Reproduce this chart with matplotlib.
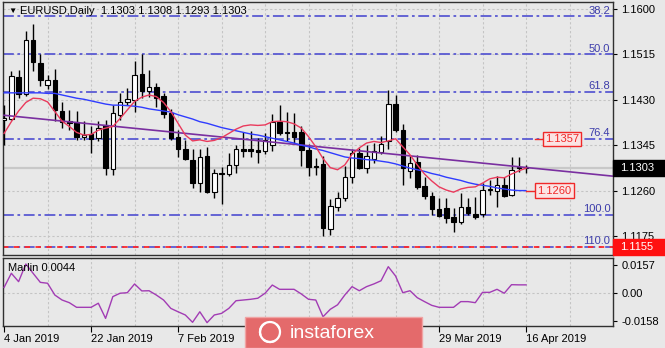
import numpy as np
import pandas as pd
import matplotlib
matplotlib.use('Agg')
import matplotlib.pyplot as plt
import matplotlib.transforms as mtransforms
from matplotlib.patches import Rectangle, Arc

plt.rcParams['font.family'] = ['Liberation Sans', 'DejaVu Sans']
plt.rcParams['font.size'] = 8
plt.rcParams['axes.unicode_minus'] = False

# daily EURUSD bars
dates = pd.bdate_range('2019-01-04', '2019-04-16')

opens = [1.1392, 1.1394, 1.1472, 1.1440, 1.1542, 1.1498, 1.1458, 1.1467, 1.1409, 1.1390,
         1.1388, 1.1360, 1.1366, 1.1358, 1.1383, 1.1301, 1.1401, 1.1425, 1.1430, 1.1478,
         1.1446, 1.1454, 1.1438, 1.1405, 1.1361, 1.1337, 1.1318, 1.1274, 1.1325, 1.1258,
         1.1293, 1.1291, 1.1308, 1.1338, 1.1337, 1.1336, 1.1334, 1.1345, 1.1389, 1.1369,
         1.1369, 1.1369, 1.1336, 1.1306, 1.1310, 1.1189, 1.1230, 1.1246, 1.1286, 1.1330,
         1.1302, 1.1320, 1.1333, 1.1352, 1.1423, 1.1373, 1.1297, 1.1314, 1.1269, 1.1249,
         1.1225, 1.1227, 1.1210, 1.1201, 1.1230, 1.1216, 1.1216, 1.1262, 1.1260, 1.1270,
         1.1252, 1.1302, 1.1303]
highs = [1.1420, 1.1484, 1.1486, 1.1559, 1.1571, 1.1515, 1.1476, 1.1488, 1.1425, 1.1410,
         1.1409, 1.1390, 1.1380, 1.1390, 1.1392, 1.1420, 1.1442, 1.1452, 1.1502, 1.1515,
         1.1486, 1.1461, 1.1442, 1.1412, 1.1374, 1.1354, 1.1337, 1.1337, 1.1341, 1.1300,
         1.1305, 1.1330, 1.1345, 1.1370, 1.1372, 1.1359, 1.1368, 1.1403, 1.1420, 1.1408,
         1.1406, 1.1381, 1.1348, 1.1321, 1.1324, 1.1245, 1.1257, 1.1306, 1.1338, 1.1340,
         1.1345, 1.1350, 1.1362, 1.1448, 1.1439, 1.1384, 1.1325, 1.1327, 1.1286, 1.1257,
         1.1247, 1.1247, 1.1227, 1.1255, 1.1247, 1.1248, 1.1275, 1.1279, 1.1287, 1.1285,
         1.1323, 1.1322, 1.1308]
lows = [1.1345, 1.1392, 1.1433, 1.1437, 1.1484, 1.1456, 1.1450, 1.1390, 1.1378, 1.1373,
        1.1355, 1.1355, 1.1331, 1.1352, 1.1289, 1.1289, 1.1392, 1.1420, 1.1408, 1.1433,
        1.1436, 1.1417, 1.1395, 1.1354, 1.1323, 1.1317, 1.1264, 1.1258, 1.1255, 1.1247,
        1.1234, 1.1288, 1.1293, 1.1323, 1.1323, 1.1311, 1.1328, 1.1335, 1.1364, 1.1353,
        1.1348, 1.1306, 1.1288, 1.1289, 1.1175, 1.1177, 1.1222, 1.1240, 1.1275, 1.1301,
        1.1292, 1.1312, 1.1328, 1.1337, 1.1370, 1.1270, 1.1284, 1.1263, 1.1245, 1.1214,
        1.1211, 1.1200, 1.1183, 1.1197, 1.1215, 1.1207, 1.1211, 1.1251, 1.1230, 1.1248,
        1.1250, 1.1295, 1.1293]
closes = [1.1395, 1.1475, 1.1440, 1.1542, 1.1500, 1.1467, 1.1467, 1.1411, 1.1389, 1.1386,
          1.1361, 1.1364, 1.1357, 1.1377, 1.1302, 1.1405, 1.1425, 1.1431, 1.1476, 1.1446,
          1.1454, 1.1434, 1.1403, 1.1359, 1.1337, 1.1320, 1.1274, 1.1323, 1.1258, 1.1292,
          1.1291, 1.1308, 1.1338, 1.1335, 1.1334, 1.1332, 1.1355, 1.1389, 1.1367, 1.1368,
          1.1360, 1.1336, 1.1305, 1.1304, 1.1190, 1.1232, 1.1247, 1.1286, 1.1330, 1.1302,
          1.1324, 1.1334, 1.1348, 1.1423, 1.1373, 1.1302, 1.1311, 1.1267, 1.1249, 1.1225,
          1.1213, 1.1209, 1.1202, 1.1230, 1.1218, 1.1210, 1.1261, 1.1263, 1.1270, 1.1249,
          1.1299, 1.1304, 1.1303]

# moving averages as plotted on the chart
fast_ma = [1.1367, 1.1389, 1.1409, 1.1425, 1.1433, 1.1432, 1.1426, 1.1408, 1.1390, 1.1380,
           1.1369, 1.1364, 1.1365, 1.1373, 1.1377, 1.1380, 1.1395, 1.1411, 1.1427, 1.1435,
           1.1439, 1.1436, 1.1425, 1.1408, 1.1386, 1.1364, 1.1353, 1.1355, 1.1352, 1.1354,
           1.1359, 1.1367, 1.1375, 1.1381, 1.1383, 1.1382, 1.1383, 1.1389, 1.1390, 1.1389,
           1.1385, 1.1377, 1.1361, 1.1342, 1.1320, 1.1303, 1.1299, 1.1308, 1.1328, 1.1340,
           1.1349, 1.1352, 1.1350, 1.1353, 1.1357, 1.1342, 1.1327, 1.1308, 1.1291, 1.1278,
           1.1267, 1.1261, 1.1257, 1.1263, 1.1266, 1.1267, 1.1274, 1.1282, 1.1285, 1.1284,
           1.1291, 1.1297, 1.1302]
slow_ma = [1.1443, 1.1443, 1.1443, 1.1443, 1.1443, 1.1443, 1.1442, 1.1442, 1.1439, 1.1436,
           1.1433, 1.1431, 1.1428, 1.1425, 1.1422, 1.1420, 1.1420, 1.1419, 1.1418, 1.1416,
           1.1413, 1.1411, 1.1409, 1.1407, 1.1402, 1.1398, 1.1394, 1.1389, 1.1386, 1.1382,
           1.1378, 1.1375, 1.1372, 1.1369, 1.1366, 1.1364, 1.1361, 1.1358, 1.1355, 1.1352,
           1.1349, 1.1345, 1.1342, 1.1338, 1.1335, 1.1331, 1.1327, 1.1323, 1.1321, 1.1320,
           1.1318, 1.1317, 1.1315, 1.1313, 1.1310, 1.1306, 1.1302, 1.1299, 1.1296, 1.1292,
           1.1289, 1.1285, 1.1282, 1.1279, 1.1275, 1.1272, 1.1270, 1.1268, 1.1265, 1.1263,
           1.1261, 1.1260, 1.1260]

marlin = [0.0030, 0.0109, 0.0062, 0.0161, 0.0109, 0.0058, 0.0053, -0.0013, -0.0041, -0.0056,
          -0.0082, -0.0082, -0.0082, -0.0059, -0.0144, -0.0022, -0.0003, 0.0000, 0.0049, 0.0010,
          0.0011, -0.0013, -0.0041, -0.0088, -0.0107, -0.0125, -0.0166, -0.0107, -0.0168, -0.0125,
          -0.0116, -0.0088, -0.0045, -0.0041, -0.0037, -0.0031, -0.0003, 0.0043, 0.0019, 0.0019,
          0.0019, -0.0007, -0.0037, -0.0041, -0.0135, -0.0093, -0.0068, -0.0013, 0.0034, 0.0011,
          0.0034, 0.0049, 0.0067, 0.0146, 0.0094, 0.0000, 0.0011, -0.0028, -0.0050, -0.0071,
          -0.0082, -0.0082, -0.0082, -0.0050, -0.0050, -0.0056, 0.0002, 0.0002, 0.0019, -0.0003,
          0.0045, 0.0044, 0.0044]

# trend line anchors (bar index, price)
trend_bars = [0, 84]
trend_prices = [1.1401, 1.1287]

fib_levels = [38.2, 50.0, 61.8, 76.4, 100.0, 110.0]
fib_prices = [1.1586, 1.1515, 1.1445, 1.1357, 1.1215, 1.1155]
support_price = 1.1155

price_ticks = [1.1175, 1.1260, 1.1345, 1.1430, 1.1515, 1.1600]
marlin_ticks = [-0.0158, 0.0, 0.0157]
marlin_tick_labels = ['-0.0158', '0.00', '0.0157']
# 25 Feb and 13 Mar sit under the badge, so only their ticks are drawn
label_bars = [0, 12, 24, 36, 48, 60, 72]
date_labels = ['4 Jan 2019', '22 Jan 2019', '7 Feb 2019', '',
               '', '29 Mar 2019', '16 Apr 2019']

W, H = 665, 348
BG = '#e8e8e8'
GRID = '#c4c4c4'
FIB = '#5a5ad2'
TAG_RED = '#f02828'


def frame(l, t, r, b):
    return [l / W, 1 - b / H, (r - l) / W, (b - t) / H]


fig = plt.figure(figsize=(W / 100, H / 100), dpi=100, facecolor=BG)
ax = fig.add_axes(frame(3, 2, 613, 255))
axm = fig.add_axes(frame(3, 258, 613, 326), sharex=ax)

for a in (ax, axm):
    a.set_facecolor(BG)
    for s in a.spines.values():
        s.set_color('#303030')
        s.set_linewidth(1.0)
    for g in range(6, 85, 6):
        a.axvline(g, color=GRID, lw=0.8, ls=(0, (2, 2)), zorder=0)
    a.yaxis.tick_right()
    a.tick_params(axis='y', length=3, pad=3, labelsize=8, colors='black')

ax.set_xlim(-0.15, 84.0)
ax.set_ylim(1.11394, 1.16131)
axm.set_ylim(-0.01868, 0.01947)

for p in price_ticks:
    ax.axhline(p, color=GRID, lw=0.8, ls=(0, (2, 2)), zorder=0)
axm.axhline(0, color=GRID, lw=0.8, ls=(0, (2, 2)), zorder=0)

x = np.arange(len(dates))
o = np.array(opens)
c = np.array(closes)

# bid line
ax.axhline(closes[-1], color='#c8c8c8', lw=1.6, zorder=1)

# fibonacci levels
blend = mtransforms.blended_transform_factory(ax.transAxes, ax.transData)
for lvl, p in zip(fib_levels, fib_prices):
    ax.axhline(p, color=FIB, lw=1.3, ls=(0, (6, 2, 1.5, 2)), zorder=2)
    ax.annotate(f'{lvl:.1f}', xy=(1, p), xycoords=blend, xytext=(-2, 0.5),
                textcoords='offset points', ha='right', va='bottom',
                color='#3c3caa', fontsize=8, zorder=7)
ax.axhline(support_price, color='#ff2a2a', lw=1.3, ls=(0, (3, 3)), zorder=2)

# candles
up = c >= o
body_low = np.minimum(o, c)
body_h = np.maximum(np.abs(c - o), 0.00004)
ax.vlines(x, lows, highs, color='black', lw=1, zorder=4)
ax.bar(x, body_h, bottom=body_low, width=0.62,
       color=np.where(up, 'white', 'black'), edgecolor='black', lw=0.8, zorder=5)

# indicators
ax.plot(trend_bars, trend_prices, color='#7a2fa0', lw=1.2, zorder=6)
ax.plot(x, slow_ma, color='#2f3cff', lw=1.0, zorder=6)
ax.plot(x, fast_ma, color='#ea3a5c', lw=1.0, zorder=6)

# price tags
ax.plot([x[-1], 73.25], [slow_ma[-1]] * 2, color=TAG_RED, lw=1, zorder=7)
ax.text(73.55, slow_ma[-1], f'{slow_ma[-1]:.4f}', ha='left', va='center', color=TAG_RED,
        fontsize=8, zorder=8,
        bbox=dict(boxstyle='square,pad=0.2', fc='#fbe4e4', ec=TAG_RED, lw=1))
ax.plot([73.25, 74.35], [fib_prices[3]] * 2, color=TAG_RED, lw=1, zorder=7)
ax.text(74.65, fib_prices[3], f'{fib_prices[3]:.4f}', ha='left', va='center', color=TAG_RED,
        fontsize=8, zorder=8,
        bbox=dict(boxstyle='square,pad=0.2', fc='#fbe4e4', ec=TAG_RED, lw=1))

ax.set_yticks(price_ticks)
ax.set_yticklabels([f'{p:.4f}' for p in price_ticks])
ax.tick_params(axis='x', bottom=False, labelbottom=False)


def axis_box(price, text, color):
    half = 8 / 5341
    ax.add_patch(Rectangle((1.0, price - half), 52 / 610, 2 * half, transform=blend,
                           fc=color, ec=color, clip_on=False, zorder=10))
    ax.text(1.0 + 7 / 610, price, text, transform=blend, color='white', ha='left',
            va='center', fontsize=8, zorder=11, clip_on=False)


axis_box(closes[-1], f'{closes[-1]:.4f}', 'black')
axis_box(support_price, f'{support_price:.4f}', '#ff1010')

# oscillator panel
axm.plot(x, marlin, color='#a23cb4', lw=1.0, zorder=3)
axm.set_yticks(marlin_ticks)
axm.set_yticklabels(marlin_tick_labels)
axm.set_xticks(label_bars)
axm.set_xticklabels(date_labels, ha='left')
axm.tick_params(axis='x', length=4, pad=2, labelsize=8, colors='black')

fig.text(8 / W, 1 - 11 / H, '\u25bc', fontsize=6, va='center', ha='left')
fig.text(20 / W, 1 - 11 / H,
         f'EURUSD,Daily  {opens[-1]:.4f} {highs[-1]:.4f} {lows[-1]:.4f} {closes[-1]:.4f}',
         va='center', ha='left', fontsize=8)
fig.text(8 / W, 1 - 268 / H, f'Marlin {marlin[-1]:.4f}', va='center', ha='left', fontsize=8)

# watermark badge
fig.patches.append(Rectangle((245 / W, 0), 177 / W, 31 / H, transform=fig.transFigure,
                             fc='#e46a6b', ec='#f0a4a4', lw=1, zorder=20))
for t1, t2 in [(20, 200), (120, 300), (230, 50)]:
    fig.patches.append(Arc((2.70, 0.16), 0.2, 0.2, theta1=t1, theta2=t2,
                           transform=fig.dpi_scale_trans, color='white', lw=1.6, zorder=21))
fig.text(290 / W, 15 / H, 'instaforex', color='white', fontsize=14,
         va='center', ha='left', zorder=22)

fig.savefig('out.png', dpi=100, facecolor=BG)
